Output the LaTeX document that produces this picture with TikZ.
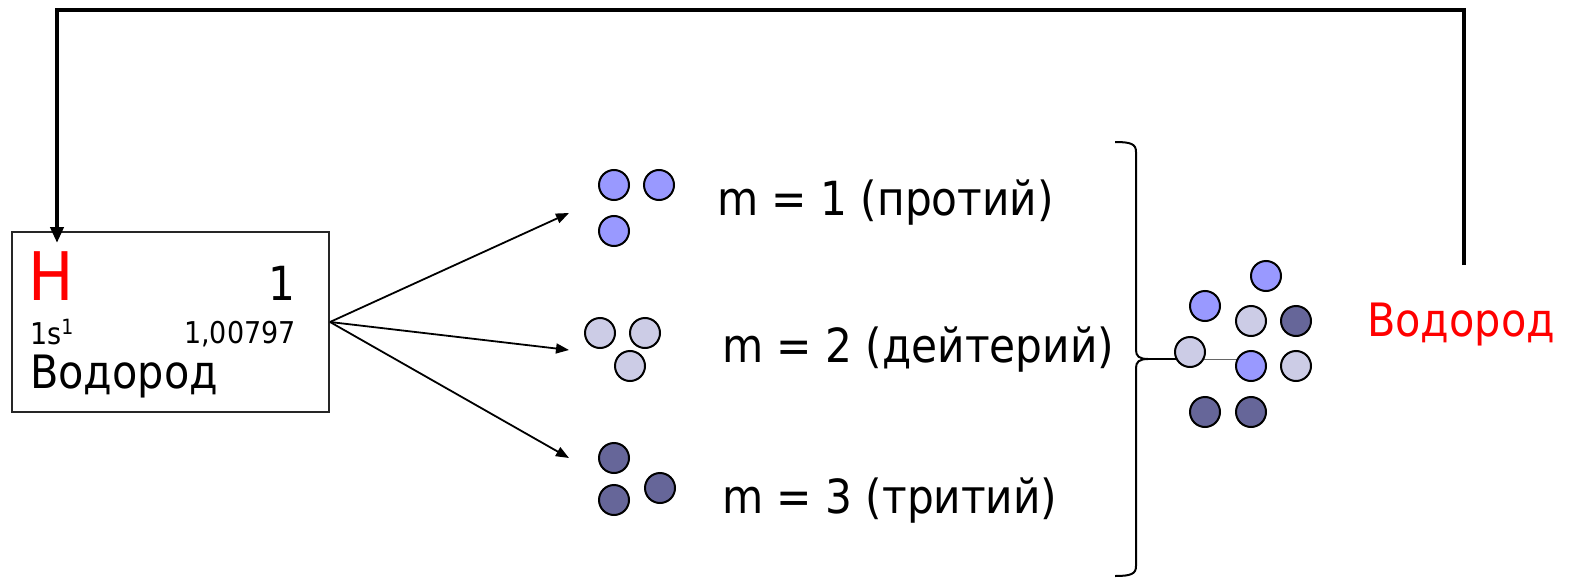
\documentclass[tikz,border=0pt]{standalone}
\usepackage{fontspec}
\setmainfont{DejaVu Sans Condensed}
\usetikzlibrary{arrows.meta}
\definecolor{pblue}{HTML}{9999FF}
\definecolor{plight}{HTML}{CCCCE6}
\definecolor{pdark}{HTML}{666699}
\tikzset{
  atom/.style={circle, draw=black, line width=2pt, minimum size=30pt, inner sep=0pt},
  prot/.style={atom, fill=pblue},
  deut/.style={atom, fill=plight},
  trit/.style={atom, fill=pdark},
  lbl/.style={inner sep=0pt, anchor=base west, font=\fontsize{47}{50}\selectfont},
  isoarrow/.style={line width=1.8pt, -{Triangle[length=13pt,width=10pt]}},
}
\begin{document}
\begin{tikzpicture}[x=1pt,y=-1pt]
\useasboundingbox (0,0) rectangle (1572,578);
% element box
\node[draw=black!85, line width=2pt, minimum width=317pt, minimum height=180pt, inner sep=0pt, anchor=north west] (hbox) at (11,231) {};
\node[inner sep=0pt, anchor=base west, text=red, font=\fontsize{67}{70}\selectfont] (hsym) at (28,300) {H};
\node[inner sep=0pt, anchor=base east, font=\fontsize{47}{50}\selectfont] (znum) at (296,300) {1};
\node[inner sep=0pt, anchor=base west, font=\fontsize{30}{32}\selectfont] (conf) at (30,344) {1s$^{\mathrm{1}}$};
\node[inner sep=0pt, anchor=base east, font=\fontsize{30}{32}\selectfont] (mass) at (296,343) {1,00797};
\node[inner sep=0pt, anchor=base west, font=\fontsize{46}{50}\selectfont] (hname) at (30,388) {Водород};
% isotopes
\node[prot] (p1) at (614,185) {};
\node[prot] (p2) at (659,185) {};
\node[prot] (p3) at (614,231) {};
\node[deut] (d1) at (600,333) {};
\node[deut] (d2) at (645,333) {};
\node[deut] (d3) at (630,366) {};
\node[trit] (t1) at (614,458) {};
\node[trit] (t2) at (614,500) {};
\node[trit] (t3) at (660,488) {};
\node[lbl] (l1) at (717,215) {m = 1 (протий)};
\node[lbl] (l2) at (722,362) {m = 2 (дейтерий)};
\node[lbl] (l3) at (722,513) {m = 3 (тритий)};
\coordinate (a1) at (569,213);
\coordinate (a2) at (569,350);
\coordinate (a3) at (569,458);
\draw[isoarrow] (hbox.east) -- (a1);
\draw[isoarrow] (hbox.east) -- (a2);
\draw[isoarrow] (hbox.east) -- (a3);
% brace
\coordinate (btip) at (1148,359);
\coordinate (lineend) at (1237,359);
\coordinate (thickend) at (1180,359);
\draw[line width=2pt] (1115,142) .. controls (1131,142) and (1136,144) .. (1136,152) -- (1136,350)
  .. controls (1136,356) and (1139,359) .. (btip)
  .. controls (1139,359) and (1136,362) .. (1136,368) -- (1136,566)
  .. controls (1136,574) and (1131,576) .. (1115,576);
\draw[line width=1pt, black!60] (btip) -- (lineend);
\draw[line width=2.5pt] (btip) -- (thickend);
% mixture
\node[deut] (m5) at (1190,352) {};
\node[prot] (m6) at (1251,366) {};
\node[prot] (m1) at (1266,276) {};
\node[prot] (m2) at (1205,306) {};
\node[deut] (m3) at (1251,321) {};
\node[trit] (m4) at (1296,321) {};
\node[deut] (m7) at (1296,366) {};
\node[trit] (m8) at (1205,412) {};
\node[trit] (m9) at (1251,412) {};
% name on right and loop
\node[inner sep=0pt, anchor=base west, text=red, font=\fontsize{46}{50}\selectfont] (rname) at (1367,336) {Водород};
\coordinate (loopstart) at (1464,265);
\coordinate (loopend) at (57,243);
\draw[line width=4pt, -{Triangle[length=16pt,width=13pt]}] (loopstart) |- (57,10) -- (loopend);
\end{tikzpicture}
\end{document}
